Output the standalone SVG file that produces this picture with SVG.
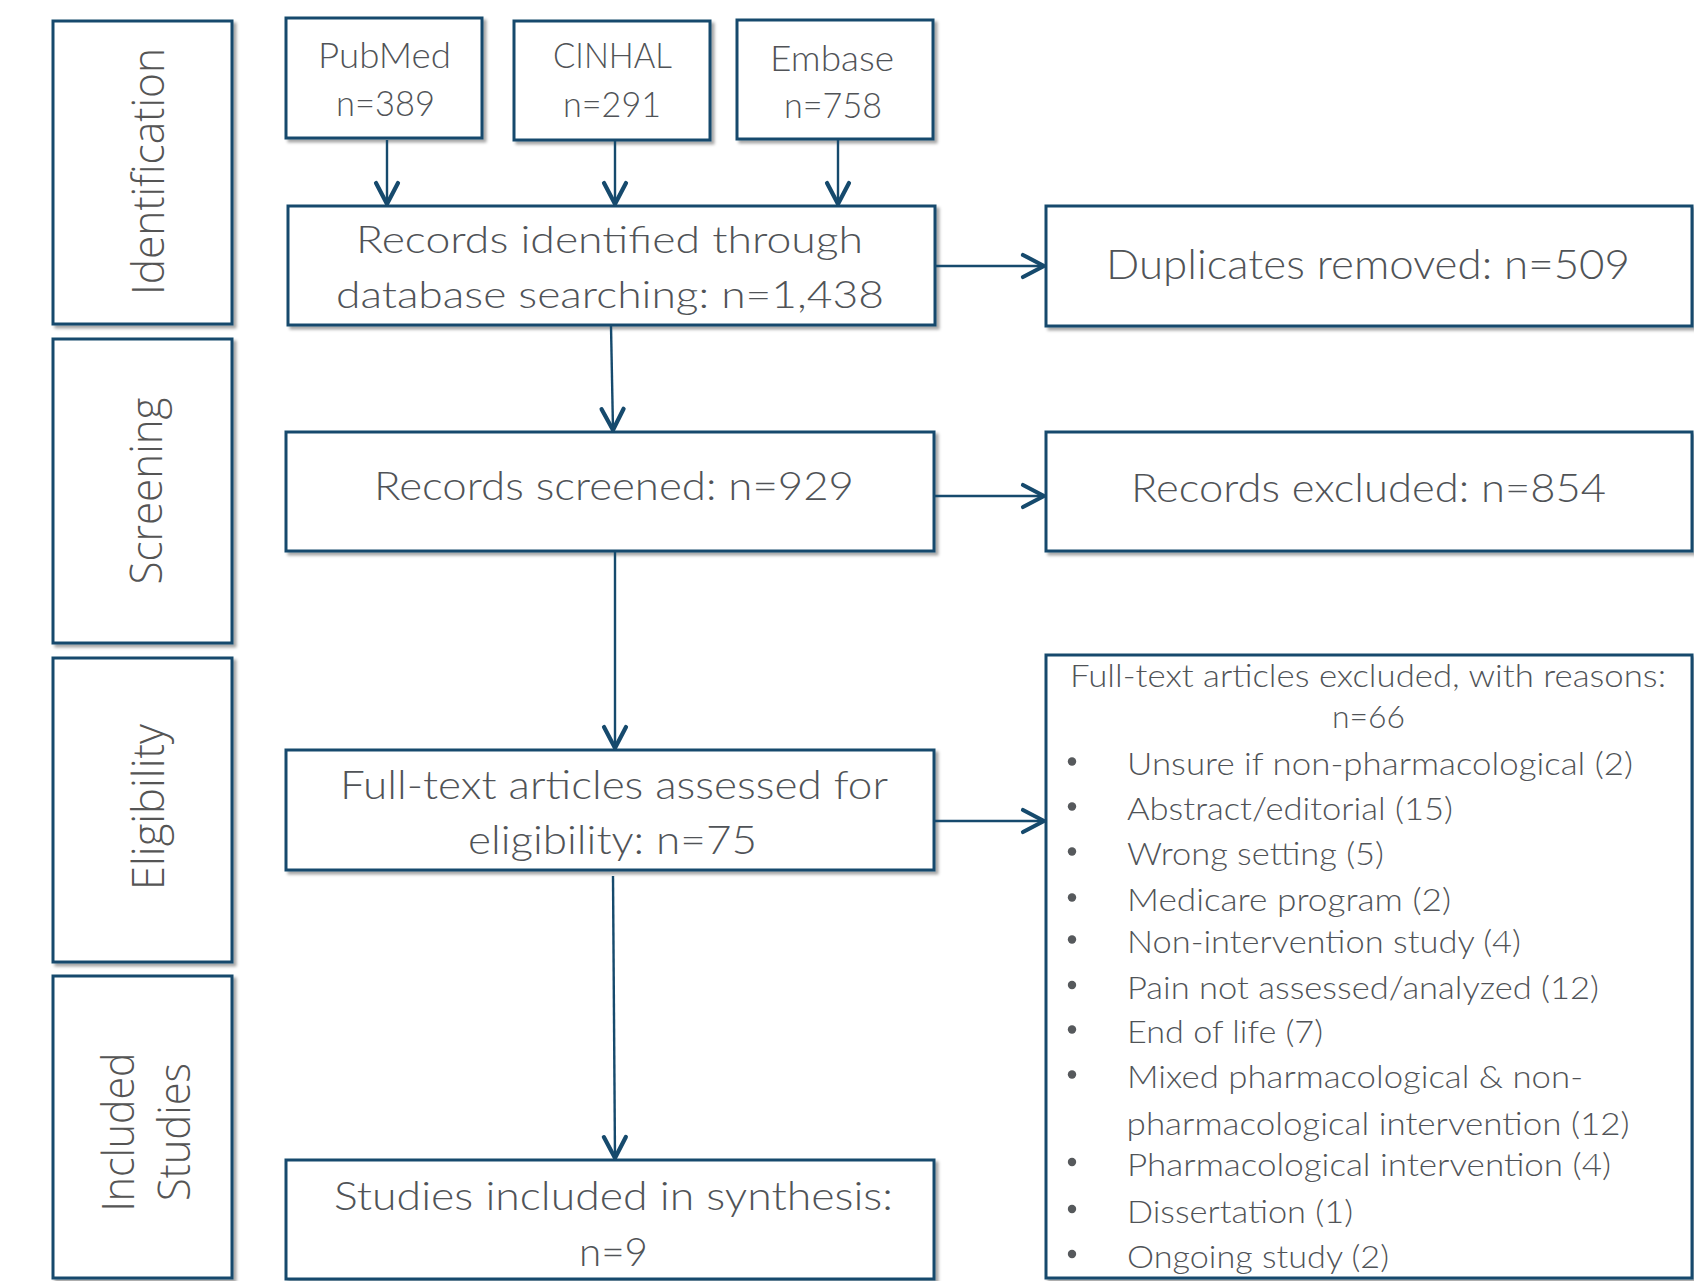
<svg xmlns="http://www.w3.org/2000/svg" width="1694" height="1281" viewBox="0 0 1694 1281">
<style>
  .box { fill: #ffffff; stroke: #164a6d; stroke-width: 3; filter: url(#sh); }
  .t { font-family: Lato, "Open Sans", "Liberation Sans", sans-serif; font-weight: 300; fill: #505357; text-anchor: middle; }
  .l { font-family: Lato, "Open Sans", "Liberation Sans", sans-serif; font-weight: 300; fill: #505357; font-size: 32px; }
  .ph { font-family: "Open Sans", "DejaVu Sans", "Liberation Sans", sans-serif; font-weight: 300; fill: #555555; font-size: 44px; text-anchor: middle; }
  .c { fill: none; stroke: #164a6d; stroke-width: 2.4; }
  .b { fill: #56595c; }
</style>
<defs>
  <filter id="sh" x="-5%" y="-5%" width="115%" height="115%">
    <feDropShadow dx="3" dy="3" stdDeviation="1.6" flood-color="#000" flood-opacity="0.35"/>
  </filter>
  <marker id="ah" markerUnits="userSpaceOnUse" markerWidth="30" markerHeight="30" viewBox="-26 -15 30 30" refX="0" refY="0" orient="auto">
    <path d="M-21,-11 L0,0 L-21,11" fill="none" stroke="#164a6d" stroke-width="4.2" stroke-linecap="round" stroke-linejoin="round"/>
  </marker>
</defs>

<g id="phase-identification">
  <rect class="box" x="53" y="21" width="179" height="303"/>
  <text class="ph" transform="translate(164,171.5) rotate(-90)" textLength="247" lengthAdjust="spacingAndGlyphs">Identification</text>
</g>
<g id="phase-screening">
  <rect class="box" x="53" y="339" width="179" height="304"/>
  <text class="ph" transform="translate(162,491) rotate(-90)" textLength="187" lengthAdjust="spacingAndGlyphs">Screening</text>
</g>
<g id="phase-eligibility">
  <rect class="box" x="53" y="658" width="179" height="304"/>
  <text class="ph" transform="translate(164,807) rotate(-90)" textLength="166" lengthAdjust="spacingAndGlyphs">Eligibility</text>
</g>
<g id="phase-included">
  <rect class="box" x="53" y="976" width="179" height="302"/>
  <text class="ph" transform="translate(134,1132) rotate(-90)" textLength="159" lengthAdjust="spacingAndGlyphs">Included</text>
  <text class="ph" transform="translate(190,1132) rotate(-90)" textLength="138" lengthAdjust="spacingAndGlyphs">Studies</text>
</g>

<g id="pubmed">
  <rect class="box" x="286" y="18" width="196" height="120"/>
  <text class="t" x="384.5" y="68" font-size="35" textLength="133" lengthAdjust="spacingAndGlyphs">PubMed</text>
  <text class="t" x="385.5" y="116" font-size="35" textLength="99" lengthAdjust="spacingAndGlyphs">n=389</text>
</g>
<g id="cinhal">
  <rect class="box" x="514" y="21" width="196" height="119"/>
  <text class="t" x="612.5" y="68" font-size="35" textLength="119" lengthAdjust="spacingAndGlyphs">CINHAL</text>
  <text class="t" x="612" y="117" font-size="35" textLength="98" lengthAdjust="spacingAndGlyphs">n=291</text>
</g>
<g id="embase">
  <rect class="box" x="737" y="20" width="196" height="119"/>
  <text class="t" x="832" y="71" font-size="35" textLength="124" lengthAdjust="spacingAndGlyphs">Embase</text>
  <text class="t" x="833" y="118" font-size="35" textLength="98" lengthAdjust="spacingAndGlyphs">n=758</text>
</g>
<g id="records-identified">
  <rect class="box" x="288" y="206" width="647" height="119"/>
  <text class="t" x="609.5" y="253" font-size="38" textLength="507" lengthAdjust="spacingAndGlyphs">Records identified through</text>
  <text class="t" x="610" y="308" font-size="38" textLength="548" lengthAdjust="spacingAndGlyphs">database searching: n=1,438</text>
</g>
<g id="duplicates-removed">
  <rect class="box" x="1046" y="206" width="646" height="120"/>
  <text class="t" x="1368" y="279" font-size="42" textLength="524" lengthAdjust="spacingAndGlyphs">Duplicates removed: n=509</text>
</g>
<g id="records-screened">
  <rect class="box" x="286" y="432" width="648" height="119"/>
  <text class="t" x="614" y="500" font-size="39" textLength="480" lengthAdjust="spacingAndGlyphs">Records screened: n=929</text>
</g>
<g id="records-excluded">
  <rect class="box" x="1046" y="432" width="646" height="119"/>
  <text class="t" x="1368.5" y="502" font-size="40" textLength="475" lengthAdjust="spacingAndGlyphs">Records excluded: n=854</text>
</g>
<g id="fulltext-assessed">
  <rect class="box" x="286" y="750" width="648" height="120"/>
  <text class="t" x="614" y="799" font-size="40" textLength="548" lengthAdjust="spacingAndGlyphs">Full-text articles assessed for</text>
  <text class="t" x="612.5" y="854" font-size="40" textLength="289" lengthAdjust="spacingAndGlyphs">eligibility: n=75</text>
</g>
<g id="studies-included">
  <rect class="box" x="286" y="1160" width="648" height="119"/>
  <text class="t" x="613.5" y="1209.5" font-size="39" textLength="559" lengthAdjust="spacingAndGlyphs">Studies included in synthesis:</text>
  <text class="t" x="613.5" y="1265.5" font-size="39" textLength="69" lengthAdjust="spacingAndGlyphs">n=9</text>
</g>
<g id="fulltext-excluded">
  <rect class="box" x="1046" y="655" width="646" height="623"/>
  <text class="t" x="1368" y="687" font-size="32" textLength="596" lengthAdjust="spacingAndGlyphs">Full-text articles excluded, with reasons:</text>
  <text class="t" x="1368.5" y="728" font-size="32" textLength="73" lengthAdjust="spacingAndGlyphs">n=66</text>
  <circle class="b" cx="1072" cy="761.5" r="4.2"/>
  <text class="l" x="1127" y="775" textLength="506" lengthAdjust="spacingAndGlyphs">Unsure if non-pharmacological (2)</text>
  <circle class="b" cx="1072" cy="806.5" r="4.2"/>
  <text class="l" x="1127" y="820" textLength="326" lengthAdjust="spacingAndGlyphs">Abstract/editorial (15)</text>
  <circle class="b" cx="1072" cy="851.5" r="4.2"/>
  <text class="l" x="1127" y="865" textLength="257" lengthAdjust="spacingAndGlyphs">Wrong setting (5)</text>
  <circle class="b" cx="1072" cy="897.5" r="4.2"/>
  <text class="l" x="1127" y="911" textLength="324" lengthAdjust="spacingAndGlyphs">Medicare program (2)</text>
  <circle class="b" cx="1072" cy="939.5" r="4.2"/>
  <text class="l" x="1127" y="953" textLength="394" lengthAdjust="spacingAndGlyphs">Non-intervention study (4)</text>
  <circle class="b" cx="1072" cy="985" r="4.2"/>
  <text class="l" x="1127" y="998.5" textLength="472" lengthAdjust="spacingAndGlyphs">Pain not assessed/analyzed (12)</text>
  <circle class="b" cx="1072" cy="1029.5" r="4.2"/>
  <text class="l" x="1127" y="1043" textLength="196" lengthAdjust="spacingAndGlyphs">End of life (7)</text>
  <circle class="b" cx="1072" cy="1074.5" r="4.2"/>
  <text class="l" x="1127" y="1088" textLength="456" lengthAdjust="spacingAndGlyphs">Mixed pharmacological &amp; non-</text>
  <text class="l" x="1126.6" y="1135" textLength="503" lengthAdjust="spacingAndGlyphs">pharmacological intervention (12)</text>
  <circle class="b" cx="1072" cy="1162" r="4.2"/>
  <text class="l" x="1127" y="1175.5" textLength="484" lengthAdjust="spacingAndGlyphs">Pharmacological intervention (4)</text>
  <circle class="b" cx="1072" cy="1209" r="4.2"/>
  <text class="l" x="1127" y="1222.5" textLength="226" lengthAdjust="spacingAndGlyphs">Dissertation (1)</text>
  <circle class="b" cx="1072" cy="1254" r="4.2"/>
  <text class="l" x="1127" y="1267.5" textLength="262" lengthAdjust="spacingAndGlyphs">Ongoing study (2)</text>
</g>

<g id="connectors">
  <line class="c" x1="387" y1="140" x2="387" y2="204" marker-end="url(#ah)"/>
  <line class="c" x1="615" y1="141" x2="615" y2="204" marker-end="url(#ah)"/>
  <line class="c" x1="838" y1="140" x2="838" y2="204" marker-end="url(#ah)"/>
  <line class="c" x1="611" y1="326" x2="613" y2="430" marker-end="url(#ah)"/>
  <line class="c" x1="936" y1="266" x2="1044" y2="266" marker-end="url(#ah)"/>
  <line class="c" x1="615" y1="552" x2="615" y2="748" marker-end="url(#ah)"/>
  <line class="c" x1="935" y1="496" x2="1044" y2="496" marker-end="url(#ah)"/>
  <line class="c" x1="613" y1="876" x2="615" y2="1158" marker-end="url(#ah)"/>
  <line class="c" x1="935" y1="821" x2="1044" y2="821" marker-end="url(#ah)"/>
</g>
</svg>
